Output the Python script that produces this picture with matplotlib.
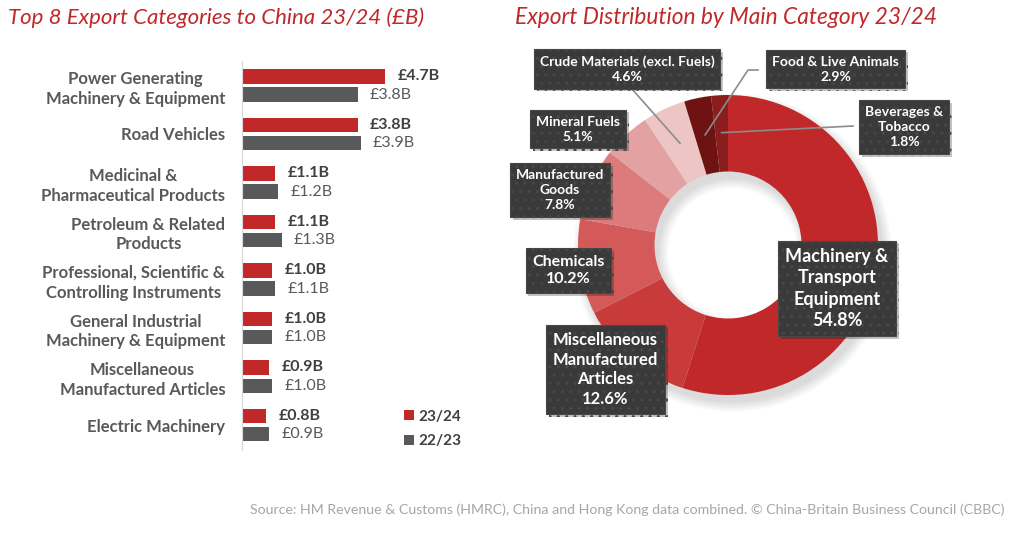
import numpy as np
import matplotlib.pyplot as plt
import matplotlib.patheffects as pe
from matplotlib.patches import Wedge

plt.rcParams['font.family'] = ['Lato', 'DejaVu Sans']
plt.rcParams['hatch.linewidth'] = 1.1

# bar chart data
categories = ['Power Generating\nMachinery & Equipment', 'Road Vehicles',
              'Medicinal &\nPharmaceutical Products', 'Petroleum & Related\nProducts',
              'Professional, Scientific &\nControlling Instruments',
              'General Industrial\nMachinery & Equipment',
              'Miscellaneous\nManufactured Articles', 'Electric Machinery']
exports_2324 = [4.7, 3.8, 1.1, 1.1, 1.0, 1.0, 0.9, 0.8]
exports_2223 = [3.8, 3.9, 1.2, 1.3, 1.1, 1.0, 1.0, 0.9]

# donut data
main_categories = ['Machinery &\nTransport\nEquipment', 'Miscellaneous\nManufactured\nArticles',
                   'Chemicals', 'Manufactured\nGoods', 'Mineral Fuels',
                   'Crude Materials (excl. Fuels)', 'Food & Live Animals', 'Beverages &\nTobacco']
shares = [54.8, 12.6, 10.2, 7.8, 5.1, 4.6, 2.9, 1.8]

RED = '#C0282A'
GREY = '#58595B'
donut_colors = ['#C0282A', '#C93B3B', '#D45A5A', '#DC7B7B', '#E4A1A1', '#EEC5C5', '#6E1212', '#8A1E1E']

W, H = 1024, 534
fig = plt.figure(figsize=(10.24, 5.34), dpi=100)


def box(l, t, w, h):
    return [l / W, 1 - (t + h) / H, w / W, h / H]


# ---- left: grouped horizontal bars
ax = fig.add_axes(box(242, 61, 238, 389))
y = np.arange(len(categories))
ax.barh(y - 0.186, exports_2324, height=0.29, color=RED, label='23/24')
ax.barh(y + 0.186, exports_2223, height=0.29, color=GREY, label='22/23')
ax.set_xlim(0, 238 / 30.4)
ax.set_ylim(7.515, -0.505)
for s in ['top', 'right', 'bottom']:
    ax.spines[s].set_visible(False)
ax.spines['left'].set_color('#D9D9D9')
ax.set_xticks([])
ax.set_yticks(y)
ax.set_yticklabels(categories, fontsize=12, fontweight='bold', color='#595959')
ax.tick_params(axis='y', length=0, pad=12)
for t in ax.get_yticklabels():
    t.set_multialignment('center')
    t.set_linespacing(1.3)

for i in range(len(categories)):
    ax.annotate(f'£{exports_2324[i]:.1f}B', (exports_2324[i], y[i] - 0.186),
                xytext=(9, 0), textcoords='offset points', va='center',
                fontsize=11.5, fontweight='bold', color='#404040')
    ax.annotate(f'£{exports_2223[i]:.1f}B', (exports_2223[i], y[i] + 0.186),
                xytext=(9, 0), textcoords='offset points', va='center',
                fontsize=11.5, color='#595959')

ax.legend(loc='upper left', bbox_to_anchor=(390 / W, 1 - 396 / H), bbox_transform=fig.transFigure,
          frameon=False, handlelength=0.65, handleheight=0.65, handletextpad=0.3,
          labelspacing=0.7, prop={'size': 11, 'weight': 'bold'}, labelcolor='#404040')

fig.text(8 / W, 1 - 18 / H, 'Top 8 Export Categories to China 23/24 (£B)', style='italic',
         color=RED, fontsize=16, va='center', ha='left')

# ---- right: donut
cx, cy, R = 728, 245, 150
dax = fig.add_axes(box(480, 40, 540, 450))


def d(px, py):
    return (px - cx) / R, (cy - py) / R


# soft shadow under the ring
for k in range(6):
    dax.add_patch(Wedge((0.03, -0.05), 1.0 + 0.012 * k, 0, 360, width=0.51 + 0.024 * k,
                        color='k', alpha=0.022, lw=0))

wedges, _ = dax.pie(shares, colors=donut_colors, startangle=90, counterclock=False,
                    radius=1, wedgeprops=dict(width=0.51, edgecolor='none'))
dax.set_xlim((480 - cx) / R, (1020 - cx) / R)
dax.set_ylim((cy - 490) / R, (cy - 40) / R)
dax.set_aspect('equal')
dax.axis('off')

label_pos = [(837, 288.5), (605.5, 369.5), (568.5, 270.5), (560, 190), (578, 129),
             (627, 69), (835.5, 69), (904, 127)]
label_size = [13, 12, 11.5, 10, 10, 10, 10, 10]

# leader lines for the small slices
mids = [np.deg2rad((w.theta1 + w.theta2) / 2) for w in wedges]
tips = [(0.75 * np.cos(a), 0.75 * np.sin(a)) for a in mids]
leaders = {5: [d(632, 89)], 6: [d(758, 70), d(748, 70)], 7: [d(853, 126)]}
for i, pts in leaders.items():
    xs = [p[0] for p in pts] + [tips[i][0]]
    ys = [p[1] for p in pts] + [tips[i][1]]
    dax.plot(xs, ys, color='#8C8C8C', lw=1.2, zorder=3)

for i, name in enumerate(main_categories):
    px, py = label_pos[i]
    t = dax.text(*d(px, py), f'{name}\n{shares[i]:.1f}%', ha='center', va='center',
                 multialignment='center', color='white', fontweight='bold',
                 fontsize=label_size[i], linespacing=1.3, zorder=5,
                 bbox=dict(boxstyle='square,pad=0.42', facecolor='#3A3A3A',
                           edgecolor='#474747', hatch='..', lw=0.8))
    t.get_bbox_patch().set_path_effects([pe.withSimplePatchShadow(offset=(2, -2), alpha=0.25)])

fig.text(515 / W, 1 - 18 / H, 'Export Distribution by Main Category 23/24', style='italic',
         color=RED, fontsize=16.4, va='center', ha='left')

fig.text(1005 / W, 1 - 510 / H,
         'Source: HM Revenue & Customs (HMRC), China and Hong Kong data combined. '
         '© China-Britain Business Council (CBBC)',
         ha='right', va='center', color='#A6A6A6', fontsize=10.2)

fig.savefig('out.png', dpi=100, facecolor='white')
